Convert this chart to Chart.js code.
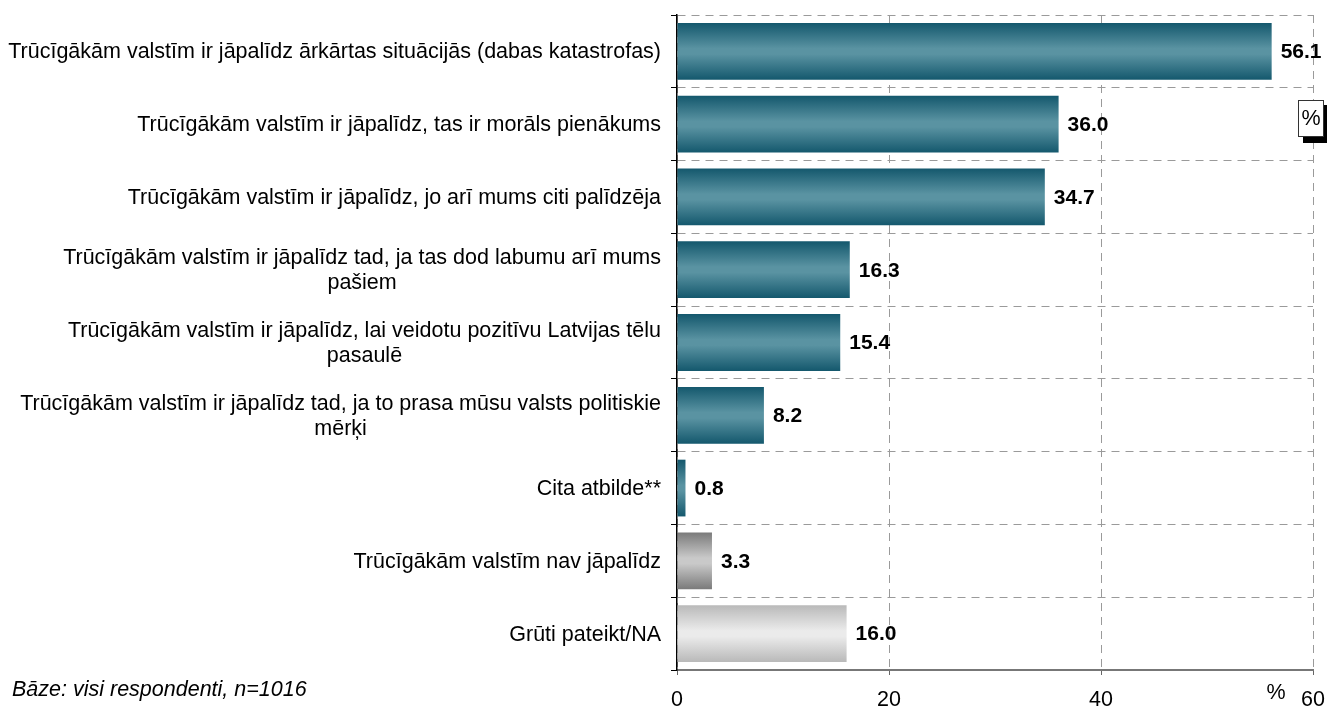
<!DOCTYPE html>
<html>
<head>
<meta charset="utf-8">
<script src="https://cdn.jsdelivr.net/npm/chart.js@4/dist/chart.umd.min.js"></script>
<style>
html,body{margin:0;padding:0;background:#fff;}
#wrap{position:relative;width:1327px;height:707px;}
</style>
</head>
<body>
<div id="wrap"><canvas id="c" width="1327" height="707"></canvas></div>
<script>
const categories = [
  ["Trūcīgākām valstīm ir jāpalīdz ārkārtas situācijās (dabas katastrofas)"],
  ["Trūcīgākām valstīm ir jāpalīdz, tas ir morāls pienākums"],
  ["Trūcīgākām valstīm ir jāpalīdz, jo arī mums citi palīdzēja"],
  ["Trūcīgākām valstīm ir jāpalīdz tad, ja tas dod labumu arī mums", "pašiem"],
  ["Trūcīgākām valstīm ir jāpalīdz, lai veidotu pozitīvu Latvijas tēlu", "pasaulē"],
  ["Trūcīgākām valstīm ir jāpalīdz tad, ja to prasa mūsu valsts politiskie", "mērķi"],
  ["Cita atbilde**"],
  ["Trūcīgākām valstīm nav jāpalīdz"],
  ["Grūti pateikt/NA"]
];
const values = [56.1, 36.0, 34.7, 16.3, 15.4, 8.2, 0.8, 3.3, 16.0];
const colorGroups = ["teal","teal","teal","teal","teal","teal","teal","gray","light"];
const xTicks = [0, 20, 40, 60];
const axisUnit = "%";
const baseNote = "Bāze: visi respondenti, n=1016";

const FONT = "'Liberation Sans', Arial, sans-serif";
const FS = 21.5;
const palettes = {
  teal: ["#14586d", "#5a93a2", "#14586d"],
  gray: ["#7a7a7a", "#c9c9c9", "#7a7a7a"],
  light: ["#b9b9b9", "#ebebeb", "#b9b9b9"]
};

function barFill(context) {
  const chart = context.chart;
  const area = chart.chartArea;
  const pal = palettes[colorGroups[context.dataIndex]] || palettes.teal;
  if (!area || !chart.scales.y) return pal[1];
  const y = chart.scales.y.getPixelForValue(context.dataIndex);
  const band = (area.bottom - area.top) / categories.length;
  const h = band * 0.78;
  const g = chart.ctx.createLinearGradient(0, y - h / 2, 0, y + h / 2);
  g.addColorStop(0, pal[0]);
  g.addColorStop(0.45, pal[1]);
  g.addColorStop(0.55, pal[1]);
  g.addColorStop(1, pal[2]);
  return g;
}

const extras = {
  id: 'extras',
  afterDatasetsDraw(chart) {
    const ctx = chart.ctx;
    const meta = chart.getDatasetMeta(0);
    ctx.save();
    ctx.font = "bold 21px " + FONT;
    ctx.fillStyle = "#000";
    ctx.textBaseline = "middle";
    ctx.textAlign = "left";
    meta.data.forEach((bar, i) => {
      ctx.fillText(values[i].toFixed(1), bar.x + 9, bar.y + 1);
    });
    ctx.restore();
  },
  afterDraw(chart) {
    const ctx = chart.ctx;
    const ys = chart.scales.y;
    ctx.save();
    ctx.fillStyle = "#000";
    ctx.font = FS + "px " + FONT;
    ctx.textBaseline = "middle";
    ctx.textAlign = "center";
    const right = 661, lh = 25;
    categories.forEach((lines, i) => {
      const y = ys.getPixelForValue(i);
      let w = 0;
      lines.forEach(l => { w = Math.max(w, ctx.measureText(l).width); });
      const cx = right - w / 2;
      const y0 = y - (lines.length - 1) * lh / 2;
      lines.forEach((l, k) => ctx.fillText(l, cx, y0 + k * lh + 1));
    });
    // unit label
    ctx.fillText(axisUnit, 1276, 693);
    // base note
    ctx.textAlign = "left";
    ctx.font = "italic " + FS + "px " + FONT;
    ctx.fillText(baseNote, 12, 690);
    // % box with shadow
    ctx.fillStyle = "#000";
    ctx.fillRect(1303, 105, 24, 38);
    ctx.fillStyle = "#fff";
    ctx.fillRect(1298, 100, 26, 37);
    ctx.strokeStyle = "#333";
    ctx.lineWidth = 1;
    ctx.strokeRect(1298.5, 100.5, 25, 36);
    ctx.fillStyle = "#000";
    ctx.font = FS + "px " + FONT;
    ctx.textAlign = "center";
    ctx.fillText(axisUnit, 1311, 119);
    ctx.restore();
  }
};

new Chart(document.getElementById('c'), {
  type: 'bar',
  data: {
    labels: categories.map(c => c.join(' ')),
    datasets: [{
      data: values,
      backgroundColor: barFill,
      borderWidth: 0,
      categoryPercentage: 1,
      barPercentage: 0.78
    }]
  },
  options: {
    indexAxis: 'y',
    responsive: false,
    animation: false,
    devicePixelRatio: 1,
    layout: { padding: { top: 15, right: 14, left: 0, bottom: 0 } },
    plugins: { legend: { display: false }, tooltip: { enabled: false } },
    scales: {
      x: {
        min: 0, max: 60,
        afterBuildTicks(scale) { scale.ticks = xTicks.map(v => ({ value: v })); },
        afterFit(scale) { scale.height = 37; scale.paddingRight = 0; scale.paddingLeft = 0; },
        ticks: { color: "#000", font: { family: FONT, size: FS }, padding: 12, maxRotation: 0 },
        grid: {
          color: "#9a9a9a", lineWidth: 1, tickLength: 5,
          tickColor: "#666", tickBorderDash: [], drawTicks: true
        },
        border: { display: true, color: "#777", width: 2, dash: [8, 6] }
      },
      y: {
        afterFit(scale) { scale.width = 677; scale.paddingTop = 0; scale.paddingBottom = 0; },
        ticks: { display: false },
        grid: {
          offset: true, color: "#9a9a9a", lineWidth: 1, tickLength: 6,
          tickColor: "#000", tickBorderDash: [], drawTicks: true
        },
        border: { display: true, color: "#000", width: 1.5, dash: [8, 6] }
      }
    }
  },
  plugins: [extras]
});
</script>
</body>
</html>
